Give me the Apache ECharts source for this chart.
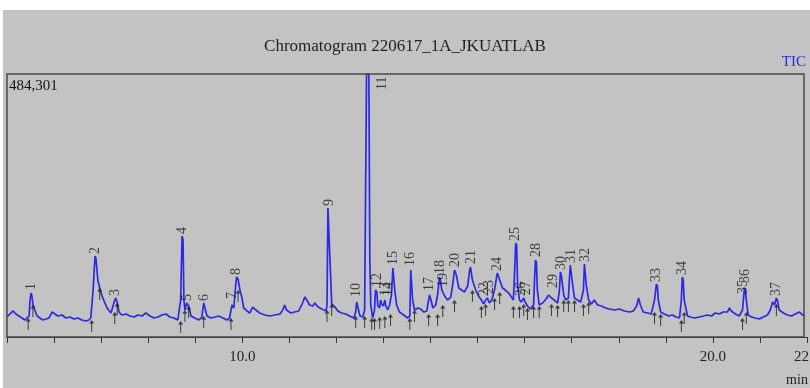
<!DOCTYPE html>
<html>
<head>
<meta charset="utf-8">
<script src="https://cdn.jsdelivr.net/npm/echarts@6/dist/echarts.min.js"></script>
<style>html,body{margin:0;padding:0;background:#fff}#c{width:810px;height:388px}</style>
</head>
<body>
<div id="c"></div>
<script>
const chartTitle = 'Chromatogram 220617_1A_JKUATLAB';
const traceName = 'TIC';
const maxTIC = 484301;
const xMin = 5, xMax = 22;
const xLabelTicks = [10, 20, 22];

const traceTime = [5.00,5.06,5.13,5.19,5.25,5.32,5.38,5.42,5.47,5.49,5.51,5.53,5.55,5.59,5.64,5.70,5.76,5.83,5.89,5.96,6.02,6.08,6.17,6.25,6.34,6.42,6.51,6.59,6.68,6.74,6.78,
6.83,6.87,6.89,6.93,6.97,7.02,7.08,7.14,7.21,7.25,7.29,7.31,7.34,7.38,7.44,7.53,7.61,7.70,7.78,7.87,7.95,8.04,8.12,8.21,8.29,8.38,8.46,8.55,8.63,8.67,
8.69,8.72,8.74,8.76,8.78,8.82,8.86,8.91,8.99,9.08,9.14,9.18,9.20,9.25,9.33,9.42,9.50,9.59,9.67,9.73,
9.78,9.80,9.82,9.86,9.88,9.91,9.95,9.99,10.03,10.10,10.16,10.22,10.29,10.37,10.48,10.58,10.69,10.80,10.86,10.90,10.94,11.03,11.11,11.20,11.28,11.33,11.37,11.43,11.50,11.54,11.61,11.69,11.78,11.80,
11.82,11.86,11.88,11.90,11.97,12.03,12.11,12.20,12.28,12.37,12.41,12.43,12.45,12.50,12.56,12.60,
12.64,12.69,12.71,12.73,12.77,12.81,12.83,12.86,12.88,12.92,12.94,12.96,13.00,13.03,13.05,13.09,13.13,13.17,13.20,13.22,13.24,13.28,13.34,13.43,13.51,13.56,
13.58,13.60,13.62,13.66,13.73,13.79,13.86,13.92,13.96,13.98,14.01,14.05,14.11,14.15,14.19,14.21,14.24,14.26,14.30,14.36,14.43,14.47,14.51,14.55,14.60,14.66,14.72,14.79,14.83,14.85,14.89,14.96,15.02,15.08,15.13,15.17,15.21,15.25,15.30,15.36,15.40,15.42,15.47,15.53,15.59,15.66,15.72,15.76,
15.78,15.81,15.83,15.85,15.89,15.93,15.98,16.02,16.06,16.12,16.19,16.21,16.23,16.25,16.27,16.31,16.38,16.44,16.51,16.57,16.63,16.70,16.74,16.76,16.78,16.83,16.87,16.93,16.95,16.97,17.00,17.02,17.06,17.12,17.19,17.25,17.27,17.29,17.31,17.36,17.42,17.48,17.55,17.63,17.72,17.80,17.91,18.01,18.12,18.23,18.31,18.38,18.42,18.46,18.52,18.61,18.69,18.76,18.80,18.82,18.84,18.89,18.97,19.06,19.14,19.22,19.29,19.33,19.35,19.37,19.39,19.46,19.52,19.61,19.71,19.80,19.88,19.97,20.05,20.14,20.22,20.31,20.35,20.39,20.48,20.56,20.63,20.67,20.69,20.71,20.75,20.82,20.90,20.99,21.07,21.16,21.22,21.27,21.31,21.35,21.37,21.41,21.50,21.58,21.67,21.75,21.84,21.91,21.95];

const traceTIC = [36800,42300,47900,42300,38700,35000,31300,33100,38700,68100,81000,75500,60800,49700,38700,35000,31300,33100,35000,46000,42300,38700,40500,35000,36800,33100,35000,31300,29500,31300,35000,
86500,149100,145400,104900,90200,75500,62600,51500,44200,46000,68100,71800,64400,46000,40500,42300,38700,36800,40500,38700,44200,38700,35000,36800,40500,42300,36800,35000,31300,29500,
68100,185900,178600,68100,49700,62600,57100,38700,35000,31300,36800,62600,60800,38700,35000,36800,38700,35000,31300,35000,
58900,60800,53400,95700,110500,106800,86500,73600,53400,47900,44200,55200,49700,44200,40500,38700,40500,42300,49700,58900,49700,44200,46000,47900,62600,73600,68100,58900,57100,62600,55200,51500,47900,58900,
237500,237500,104900,60800,55200,47900,44200,42300,38700,35000,46000,64400,57100,38700,36800,49700,
484301,484301,141800,58900,35000,49700,86500,82800,57100,53400,68100,60800,57100,68100,57100,49700,58900,77300,127000,127000,86500,58900,46000,40500,35000,38700,
123300,119700,68100,49700,53400,51500,46000,47900,68100,77300,68100,53400,58900,77300,110500,104900,86500,86500,75500,68100,73600,95700,123300,114100,90200,86500,82800,93900,123300,128900,104900,86500,75500,68100,60800,68100,71800,62600,68100,86500,108600,117800,104900,90200,86500,81000,73600,68100,
104900,173100,169400,95700,68100,64400,71800,62600,57100,51500,58900,104900,141800,138100,86500,58900,62600,68100,77300,71800,68100,62600,86500,119700,114100,77300,68100,71800,104900,132600,130700,95700,71800,68100,64400,86500,134400,132600,95700,68100,60800,68100,58900,57100,53400,51500,49700,51500,47900,46000,47900,57100,71800,58900,46000,44200,42300,68100,97600,93900,68100,46000,42300,38700,40500,36800,35000,68100,110500,104900,68100,38700,36800,35000,36800,38700,40500,38700,44200,42300,46000,46000,53400,47900,42300,38700,49700,90200,86500,68100,40500,36800,35000,33100,36800,40500,49700,64400,58900,71800,68100,49700,44200,40500,38700,42300,46000,40500,38700];

const peakLabels = ['1','2','3','4','5','6','7','8','9','10','11','12','13','14','15','16','17','18','19','20','21','22','23','24','25','26','27','28','29','30','31','32','33','34','35','36','37'];
const peakLabelTime = [5.51,6.87,7.31,8.72,8.84,9.20,9.78,9.88,11.84,12.43,12.98,12.88,13.03,13.11,13.22,13.58,13.98,14.21,14.28,14.53,14.87,15.15,15.25,15.42,15.81,15.93,16.04,16.25,16.61,16.78,17.00,17.29,18.80,19.35,20.65,20.69,21.35];
const peakLabelTIC = [82800,149100,71800,185900,62600,62600,66300,110500,237500,70000,451000,88400,71800,71800,128900,127000,81000,112300,88400,125200,130700,71800,75500,117800,173100,71800,73600,143600,86500,119700,132600,134400,97600,110500,75500,95700,71800];

const markTime = [5.45,5.55,6.80,6.97,7.29,7.34,8.69,8.78,8.86,9.18,9.76,9.91,11.80,11.90,12.41,12.60,12.75,12.81,12.92,13.03,13.15,13.56,13.66,13.96,14.15,14.26,14.51,14.89,15.08,15.17,15.36,15.47,15.76,15.89,15.98,16.06,16.19,16.31,16.57,16.70,16.83,16.93,17.06,17.25,17.36,18.76,18.89,19.33,19.39,20.63,20.71,21.35];
const markTIC = [35000,58900,31300,90200,46000,62600,29500,49700,57100,38700,35000,86500,49700,60800,38700,38700,35000,35000,36800,38700,42300,35000,49700,42300,42300,58900,68100,86500,57100,60800,71800,82800,57100,57100,60800,53400,57100,57100,60800,58900,68100,68100,68100,60800,64400,46000,42300,31300,46000,35000,46000,60800];

const serif = '"Liberation Serif", "DejaVu Serif", serif';
const chart = echarts.init(document.getElementById('c'), null, {renderer: 'canvas'});

const trace = traceTime.map((t, i) => [t, traceTIC[i]]);
const labelData = peakLabels.map((n, i) => ({value: [peakLabelTime[i], peakLabelTIC[i]], name: n}));
const markData = markTime.map((t, i) => [t, markTIC[i]]);

chart.setOption({
  backgroundColor: '#ffffff',
  animation: false,
  title: {
    text: chartTitle, left: 'center', top: 33,
    textStyle: {fontFamily: serif, fontSize: 17, fontWeight: 'normal', color: '#222'}
  },
  grid: {left: 7, right: 3, top: 74, bottom: 51, containLabel: false, outerBoundsMode: 'none'},
  xAxis: {
    type: 'value', min: xMin, max: xMax, interval: 1,
    axisLine: {show: true, lineStyle: {color: '#333', width: 1}},
    axisTick: {show: true, length: 6, lineStyle: {color: '#333'}},
    splitLine: {show: false},
    axisLabel: {
      interval: 0, showMaxLabel: true, showMinLabel: true, margin: 13,
      fontFamily: serif, fontSize: 15, color: '#222',
      formatter: v => xLabelTicks.indexOf(v) >= 0 ? v.toFixed(1) : ''
    }
  },
  yAxis: {
    type: 'value', min: 0, max: maxTIC,
    axisLine: {show: false}, axisTick: {show: false}, axisLabel: {show: false}, splitLine: {show: false}
  },
  graphic: [
    {type: 'rect', z: -100, silent: true, shape: {x: 3, y: 10, width: 807, height: 378}, style: {fill: '#c3c3c3'}},
    {type: 'rect', z: 100, silent: true, shape: {x: 7, y: 74, width: 797, height: 263}, style: {fill: 'none', stroke: '#4a4a4a', lineWidth: 1.5}},
    {type: 'text', z: 100, x: 806, y: 62, style: {text: traceName, fill: '#2a2ae6', font: '15px ' + serif, textAlign: 'right', textVerticalAlign: 'middle'}},
    {type: 'text', z: 100, x: 9, y: 86, style: {text: maxTIC.toLocaleString('en-US'), fill: '#111', font: '15px ' + serif, textAlign: 'left', textVerticalAlign: 'middle'}},
    {type: 'text', z: 100, x: 797, y: 380, style: {text: 'min', fill: '#222', font: '14px ' + serif, textAlign: 'center', textVerticalAlign: 'middle'}}
  ],
  series: [
    {
      type: 'line', data: trace, showSymbol: false, smooth: false, clip: true,
      lineStyle: {color: '#2a2ae6', width: 1.7}, z: 3
    },
    {
      type: 'scatter', data: markData, z: 4,
      symbol: 'path://M5 0 L10 7 L6 7 L6 24 L4 24 L4 7 L0 7 Z',
      symbolSize: [5, 12], symbolOffset: [0, 6],
      itemStyle: {color: '#1a1a1a'}
    },
    {
      type: 'scatter', data: labelData, symbolSize: 2, z: 5,
      itemStyle: {color: 'rgba(0,0,0,0)'},
      label: {
        show: true, position: 'top', distance: 1, rotate: 90,
        align: 'left', verticalAlign: 'middle',
        formatter: p => p.name,
        fontFamily: serif, fontSize: 14, color: '#1a1a1a'
      }
    }
  ]
});
</script>
</body>
</html>
